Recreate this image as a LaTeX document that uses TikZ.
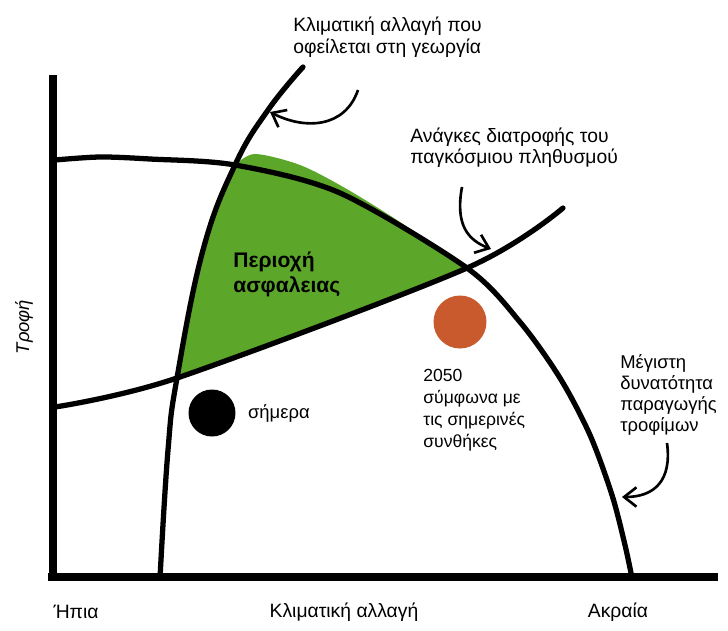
\documentclass[tikz,border=0pt]{standalone}
\usepackage{fontspec}
\setmainfont{Liberation Sans}
\usetikzlibrary{arrows.meta,positioning}

\definecolor{safegreen}{RGB}{92,166,42}
\definecolor{dotlate}{RGB}{201,90,45}

\begin{document}
\begin{tikzpicture}[x=0.02cm,y=-0.02cm,
  axis/.style={line width=4.5pt},
  bound/.style={line width=3pt,line cap=round},
  pointer/.style={-{Straight Barb[length=7pt,width=11pt]},line width=1.5pt},
  note/.style={align=left,inner sep=0pt,anchor=north west},
  dot/.style={circle,inner sep=0pt}]
\useasboundingbox (0,0) rectangle (728,630);

% safe region (green)
\begin{scope}
  \clip plot[smooth,tension=0.7] coordinates {(160,578) (168,450) (177,378) (203,250) (235,165) (268,110) (303,67)}
    -- (360,-20) -- (740,-20) -- (740,640) -- (160,640) -- cycle;
  \clip plot[smooth] coordinates {(55,407) (177,378) (467,268) (563,208)}
    -- (740,-20) -- (-10,-20) -- cycle;
  \clip (-10,168) -- plot[smooth] coordinates {(235,165) (255,154) (300,165) (345,188) (400,222) (467,268)}
    -- (740,500) -- (740,640) -- (-10,640) -- cycle;
  \fill[safegreen] (0,0) rectangle (728,630);
\end{scope}

% axes
\coordinate (O) at (53,577);
\draw[axis] (53,75) -- (O);
\draw[axis] (48,577) -- (718,577);

% climate change curve
\draw[bound] plot[smooth,tension=0.7] coordinates {(160,578) (168,450) (177,378) (203,250) (235,165) (268,110) (303,67)};
% maximum food production
\draw[bound] plot[smooth] coordinates {(55,160) (100,157) (150,159) (235,165) (340,193) (467,268) (520,322) (560,378) (590,435) (612,495) (625,545) (632,578)};
% world population needs
\draw[bound] plot[smooth] coordinates {(55,407) (177,378) (467,268) (563,208)};

% points
\node[dot,fill=black,minimum size=0.94cm] (today) at (212,413) {};
\node[right=0.12cm of today,font=\fontsize{10.5}{12}\selectfont] (todaylbl) {σήμερα};
\node[dot,fill=dotlate,minimum size=1.06cm] (future) at (460,322) {};
\node[note,font=\fontsize{10}{12.5}\selectfont] (futurelbl) at (423,369) {2050\\σύμφωνα με\\τις σημερινές\\συνθήκες};

% labels
\node[note,font=\bfseries\fontsize{12}{14}\selectfont] (safe) at (233,252) {Περιοχή\\ασφαλειας};
\node[note,font=\fontsize{11}{12}\selectfont] (agri) at (293,17) {Κλιματική αλλαγή που\\οφείλεται στη γεωργία};
\node[note,font=\fontsize{11}{11.5}\selectfont] (needs) at (410,128) {Ανάγκες διατροφής του\\παγκόσμιου πληθυσμού};
\node[note,font=\fontsize{10.5}{12}\selectfont] (maxprod) at (620,354) {Μέγιστη\\δυνατότητα\\παραγωγής\\τροφίμων};

% axis labels
\node[font=\fontsize{11}{12}\selectfont] (mild) at (76,612) {Ήπια};
\node[font=\fontsize{11}{12}\selectfont] (climate) at (344,612) {Κλιματική αλλαγή};
\node[font=\fontsize{11}{12}\selectfont] (extreme) at (618,612) {Ακραία};
\node[rotate=90,font=\itshape\fontsize{10.5}{12}\selectfont] (food) at (24,327) {Τροφή};

% pointers
\coordinate (agrifrom) at (358,90);
\coordinate (agrito) at (270,112);
\draw[pointer] (agrifrom) .. controls (345,128) and (305,130) .. (agrito);
\coordinate (needsfrom) at (462,187);
\coordinate (needsto) at (491,249);
\draw[pointer] (needsfrom) .. controls (455,225) and (468,240) .. (needsto);
\coordinate (maxfrom) at (667,443);
\coordinate (maxto) at (622,497);
\draw[pointer] (maxfrom) .. controls (672,480) and (655,497) .. (maxto);
\end{tikzpicture}
\end{document}
